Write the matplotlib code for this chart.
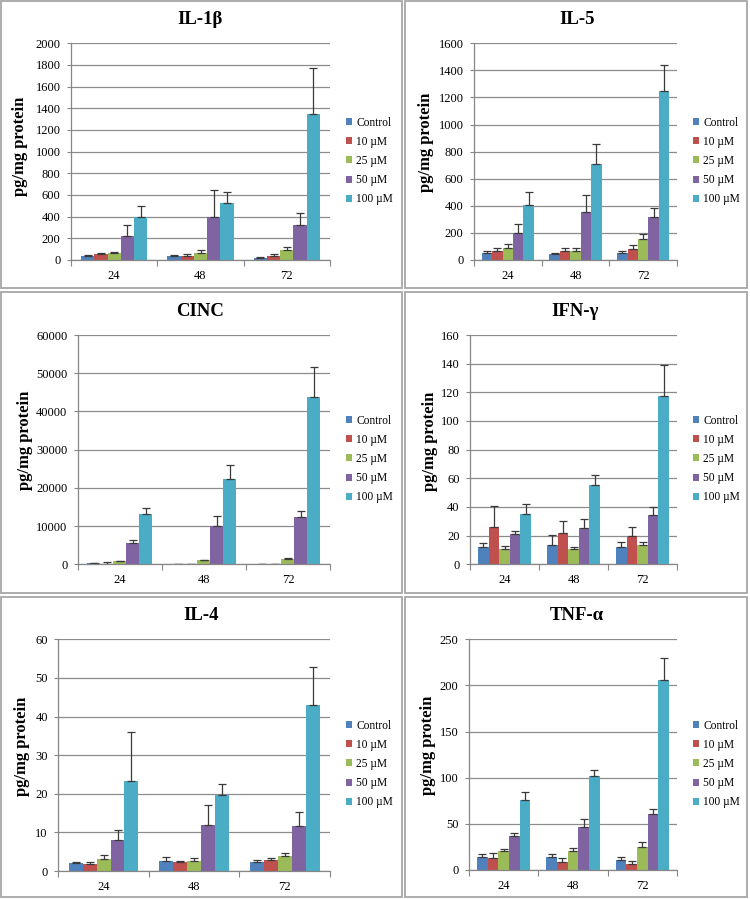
import numpy as np
import matplotlib
matplotlib.use("Agg")
import matplotlib.pyplot as plt
from matplotlib.patches import Rectangle

plt.rcParams['font.family'] = ['Liberation Serif', 'DejaVu Serif']

W, H = 750, 899

hours = ['24', '48', '72']
groups = ['Control', '10 µM', '25 µM', '50 µM', '100 µM']
colors = ['#4F81BD', '#C0504D', '#9BBB59', '#8064A2', '#4BACC6']

# values, one list per group (24, 48, 72 h)
il1b_mean = [[35, 35, 20], [55, 40, 40], [60, 65, 95], [220, 400, 320], [400, 530, 1350]]
il1b_err = [[12, 12, 12], [8, 12, 12], [18, 28, 28], [105, 250, 110], [95, 93, 420]]

il5_mean = [[55, 44, 54], [70, 70, 79], [86, 70, 153], [197, 352, 320], [409, 709, 1248]]
il5_err = [[8, 10, 15], [15, 22, 35], [30, 22, 40], [72, 125, 65], [90, 150, 190]]

cinc_mean = [[300, 120, 40], [100, 100, 100], [750, 1000, 1400], [5500, 10000, 12500], [13100, 22300, 43900]]
cinc_err = [[100, 50, 0], [400, 50, 80], [200, 150, 250], [800, 2600, 1500], [1600, 3700, 7700]]

ifng_mean = [[12, 13.5, 12], [26, 22, 19.5], [10.7, 10.5, 13.5], [21.4, 25.6, 34.4], [35, 55, 117.7]]
ifng_err = [[3, 7, 3.5], [15, 8, 6.3], [2, 1.5, 2], [1.5, 6, 5.6], [7, 7, 21.6]]

il4_mean = [[2.1, 2.7, 2.3], [1.9, 2.3, 2.9], [3.1, 2.5, 3.9], [7.9, 12.0, 11.7], [23.4, 19.8, 43.0]]
il4_err = [[0.2, 1.0, 0.5], [0.4, 0.4, 0.5], [1.0, 0.8, 0.7], [2.6, 5.0, 3.5], [12.6, 2.8, 9.7]]

tnfa_mean = [[14.5, 14.5, 10.5], [12.8, 8.7, 6.9], [20.2, 20.2, 24.9], [36.8, 46.6, 60.7], [76, 101.5, 206]]
tnfa_err = [[2.5, 2.5, 3.2], [6, 4, 3.2], [3, 3.3, 5], [3, 8.3, 5.8], [9, 6.5, 24]]


def px(l, t, r, b):
    """pixel box (image coords) -> figure fraction rect"""
    return [l / W, 1 - b / H, (r - l) / W, (b - t) / H]


def draw_panel(fig, box, title, means, errs, ymax, ystep, title_xy, ylab_xy, leg_xy):
    l, t, r, b = box
    ax = fig.add_axes(px(l, t, r, b))
    x = np.arange(len(hours))
    width = 1 / 6.5
    for i, g in enumerate(groups):
        off = (i - 2) * width
        m = np.array(means[i])
        e = np.array(errs[i])
        ax.bar(x + off, m, width, color=colors[i], label=g,
               yerr=[np.zeros_like(e), e],
               error_kw=dict(ecolor='#3a3a3a', elinewidth=0.9, capsize=2.6, capthick=0.9))

    ax.set_xlim(-0.5, 2.5)
    ax.set_ylim(0, ymax)
    ax.set_yticks(np.arange(0, ymax + ystep / 2, ystep))
    ax.set_xticks([-0.5, 0.5, 1.5, 2.5])
    ax.set_xticklabels([])
    ax.set_xticks(x, minor=True)
    ax.set_xticklabels(hours, minor=True)
    ax.tick_params(axis='x', which='major', direction='out', length=4, color='#868686')
    ax.tick_params(axis='x', which='minor', length=0, pad=7, labelsize=9)
    ax.tick_params(axis='y', direction='out', length=3, color='#868686', labelsize=9, pad=4.5)

    ax.yaxis.grid(True, color='#8c8c8c', linewidth=0.9)
    ax.set_axisbelow(True)
    for s in ['top', 'right']:
        ax.spines[s].set_visible(False)
    for s in ['left', 'bottom']:
        ax.spines[s].set_color('#868686')
        ax.spines[s].set_linewidth(0.9)

    fig.text(title_xy[0] / W, 1 - title_xy[1] / H, title, ha='center', va='center',
             fontsize=13.5, fontweight='bold')
    fig.text(ylab_xy[0] / W, 1 - ylab_xy[1] / H, 'pg/mg protein', ha='center', va='center',
             rotation=90, fontsize=12, fontweight='bold')

    ax.legend(loc='center left', bbox_to_anchor=(leg_xy[0] / W, 1 - leg_xy[1] / H),
              bbox_transform=fig.transFigure, frameon=False, fontsize=8.3,
              handlelength=0.55, handleheight=0.55, handletextpad=0.35,
              labelspacing=0.62, borderpad=0, borderaxespad=0)
    return ax


fig = plt.figure(figsize=(W / 100, H / 100), dpi=100)

# panel frames
for (l, t, r, b) in [(1, 1, 402, 288), (405, 1, 747, 288),
                     (1, 292, 402, 593), (405, 292, 747, 593),
                     (1, 597, 402, 897), (405, 597, 747, 897)]:
    fig.patches.append(Rectangle((l / W, 1 - b / H), (r - l) / W, (b - t) / H,
                                 transform=fig.transFigure, fill=False,
                                 edgecolor='#a6a6a6', linewidth=1.3))

draw_panel(fig, (71, 43.3, 330, 260), 'IL-1β', il1b_mean, il1b_err, 2000, 200,
           (200, 20), (20, 146), (346, 161))
draw_panel(fig, (474, 43.3, 677, 260), 'IL-5', il5_mean, il5_err, 1600, 200,
           (577, 20), (426, 142), (693, 161))
draw_panel(fig, (77.7, 335, 330, 564.3), 'CINC', cinc_mean, cinc_err, 60000, 10000,
           (200, 311), (25, 440), (346, 459))
draw_panel(fig, (470, 335, 677, 564.3), 'IFN-γ', ifng_mean, ifng_err, 160, 20,
           (575, 311), (430, 441), (693, 459))
draw_panel(fig, (58.3, 639.3, 330, 871), 'IL-4', il4_mean, il4_err, 60, 10,
           (201, 615), (22, 746), (346, 764))
draw_panel(fig, (469, 639.3, 677, 870), 'TNF-α', tnfa_mean, tnfa_err, 250, 50,
           (577, 615), (428, 745), (693, 764))

fig.savefig('out.png', dpi=100)
